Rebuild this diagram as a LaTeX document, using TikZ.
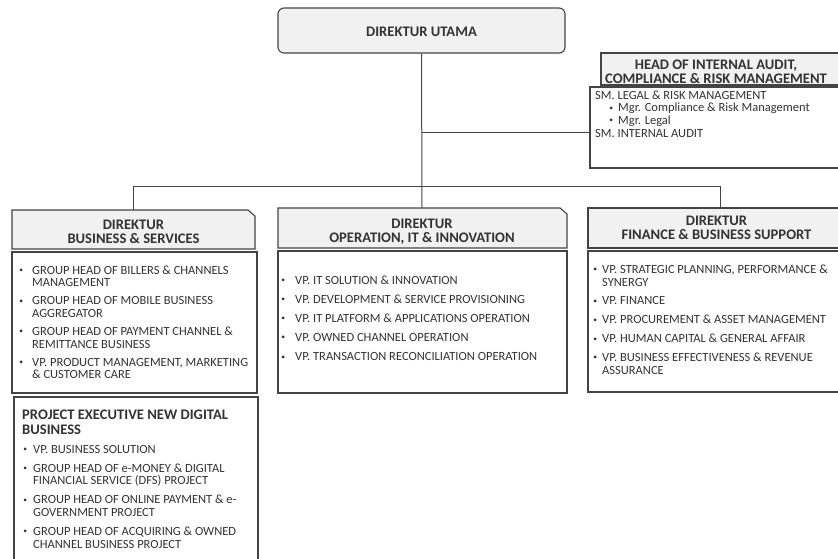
\documentclass[tikz,border=0pt]{standalone}
\usepackage{fontspec}
\usepackage{graphicx}
\setmainfont{Carlito}
\definecolor{ink}{HTML}{333333}
\definecolor{edge}{HTML}{444444}
\definecolor{hdr}{HTML}{F1F1F1}
\newcommand{\hdrfont}{\bfseries\fontsize{14.6}{14}\selectfont}
\newcommand{\bodyfont}{\fontsize{12.5}{12.7}\selectfont}
\newcommand{\hdrtab}[1]{\begin{tabular}[t]{@{}c@{}}#1\end{tabular}}
\newcommand{\lsttab}[1]{\begin{tabular}[t]{@{}l@{}}#1\end{tabular}}
\newlength{\bw}
\newcommand{\bu}{\makebox[\bw][l]{\makebox[6pt][c]{\raisebox{1.7pt}{\scalebox{0.6}{•}}}}}
\newcommand{\ct}{\hspace*{\bw}}
\tikzset{
  conn/.style={draw=edge, line width=1pt},
  topbox/.style={draw=edge, line width=1.1pt, fill=hdr, rounded corners=6pt, minimum width=287pt, minimum height=45pt, inner sep=0pt},
  hdrbox/.style={draw=edge, line width=1.1pt, fill=hdr},
  bodybox/.style={draw=edge, line width=1.2pt, fill=white},
  hdrtext/.style={text=ink, font=\hdrfont, inner sep=0pt, anchor=base},
  lsttext/.style={text=ink, font=\bodyfont, inner sep=0pt, anchor=base west},
}
\begin{document}
\begin{tikzpicture}[x=1pt, y=-1pt]
\useasboundingbox (0,0) rectangle (838,558);
\clip (0,0) rectangle (838,558);
\fill[white] (0,0) rectangle (838,558);

% top box
\node[topbox] (du) at (421.5,30.5) {};
\node[hdrtext] (dutxt) at (421.5,36) {DIREKTUR UTAMA};

% connector coordinates
\coordinate (ja) at (422,132);
\coordinate (jl) at (133,186);
\coordinate (jr) at (720,186);
\coordinate (bstop) at (133,210);
\coordinate (oitop) at (422,208);
\coordinate (fbtop) at (720,208);
\coordinate (auleft) at (590,132);

\draw[conn] (du.south) -- (oitop);
\draw[conn] (bstop) -- (jl) -- (jr) -- (fbtop);
\draw[conn] (ja) -- (auleft);

% audit
\draw[hdrbox] (601,53) rectangle (850,85);
\draw[bodybox] (590,87) rectangle (850,168);
\node[hdrtext, font=\bfseries\fontsize{14.6}{13.3}\selectfont] (auh) at (716,69.7) {\hdrtab{HEAD OF INTERNAL AUDIT,\\COMPLIANCE \& RISK MANAGEMENT}};
\node[lsttext] (aub) at (595,99) {\setlength{\bw}{10pt}\lsttab{SM. LEGAL \& RISK MANAGEMENT\\
\hspace*{13pt}\bu Mgr. Compliance \& Risk Management\\
\hspace*{13pt}\bu Mgr. Legal\\
SM. INTERNAL AUDIT}};

% business & services
\draw[hdrbox] (12,249) -- (12,210) -- (248,210) -- (255,216) -- (255,249) -- cycle;
\draw[bodybox] (12,252) rectangle (257,393);
\node[hdrtext] (bsh) at (133.5,229) {\hdrtab{DIREKTUR\\BUSINESS \& SERVICES}};
\node[lsttext] (bsl) at (18,274) {\setlength{\bw}{14pt}\lsttab{\bu GROUP HEAD OF BILLERS \& CHANNELS\\
\ct MANAGEMENT\\[5.3pt]
\bu GROUP HEAD OF MOBILE BUSINESS\\
\ct AGGREGATOR\\[5.3pt]
\bu GROUP HEAD OF PAYMENT CHANNEL \&\\
\ct REMITTANCE BUSINESS\\[5.3pt]
\bu VP. PRODUCT MANAGEMENT, MARKETING\\
\ct \& CUSTOMER CARE}};

% project executive
\draw[bodybox] (14,575) -- (14,397) -- (258,397) -- (258,575);
\node[hdrtext, anchor=base west, font=\bfseries\fontsize{14.6}{15}\selectfont] (peh) at (22,419) {\lsttab{PROJECT EXECUTIVE NEW DIGITAL\\BUSINESS}};
\node[lsttext] (pel) at (22,453) {\setlength{\bw}{11pt}\lsttab{\bu VP. BUSINESS SOLUTION\\[6.3pt]
\bu GROUP HEAD OF e-MONEY \& DIGITAL\\
\ct FINANCIAL SERVICE (DFS) PROJECT\\[6.3pt]
\bu GROUP HEAD OF ONLINE PAYMENT \& e-\\
\ct GOVERNMENT PROJECT\\[6.3pt]
\bu GROUP HEAD OF ACQUIRING \& OWNED\\
\ct CHANNEL BUSINESS PROJECT}};

% operation, IT & innovation
\draw[hdrbox] (278,248) -- (278,208) -- (560,208) -- (567,214) -- (567,248) -- cycle;
\draw[bodybox] (278,251) rectangle (567,393);
\node[hdrtext] (oih) at (422,228) {\hdrtab{DIREKTUR\\OPERATION, IT \& INNOVATION}};
\node[lsttext] (oil) at (280,284) {\setlength{\bw}{15pt}\lsttab{\bu VP. IT SOLUTION \& INNOVATION\\[6.5pt]
\bu VP. DEVELOPMENT \& SERVICE PROVISIONING\\[6.5pt]
\bu VP. IT PLATFORM \& APPLICATIONS OPERATION\\[6.5pt]
\bu VP. OWNED CHANNEL OPERATION\\[6.5pt]
\bu VP. TRANSACTION RECONCILIATION OPERATION}};

% finance & business support
\draw[hdrbox] (588,248) -- (588,208) -- (850,208) -- (850,248) -- cycle;
\draw[bodybox] (588,251) rectangle (850,392);
\node[hdrtext] (fbh) at (716.5,225.4) {\hdrtab{DIREKTUR\\FINANCE \& BUSINESS SUPPORT}};
\node[lsttext] (fbl) at (592,273.3) {\setlength{\bw}{10pt}\lsttab{\bu VP. STRATEGIC PLANNING, PERFORMANCE \&\\
\ct SYNERGY\\[6.2pt]
\bu VP. FINANCE\\[6.2pt]
\bu VP. PROCUREMENT \& ASSET MANAGEMENT\\[6.2pt]
\bu VP. HUMAN CAPITAL \& GENERAL AFFAIR\\[6.2pt]
\bu VP. BUSINESS EFFECTIVENESS \& REVENUE\\
\ct ASSURANCE}};
\end{tikzpicture}
\end{document}
